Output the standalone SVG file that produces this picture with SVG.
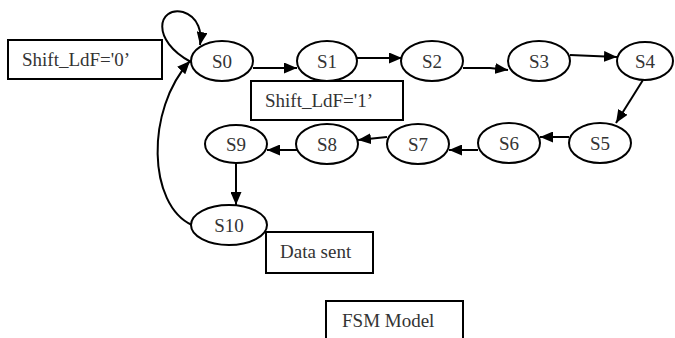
<svg xmlns="http://www.w3.org/2000/svg" width="675" height="338" viewBox="0 0 675 338">
  <defs>
    <marker id="arrow" markerUnits="userSpaceOnUse" markerWidth="13" markerHeight="11" refX="13" refY="5.5" orient="auto">
      <path d="M0,0 L13,5.5 L0,11 z" fill="#000"/>
    </marker>
    <style>
      .state ellipse { fill: #fff; stroke: #000; stroke-width: 2; }
      .label rect { fill: #fff; stroke: #000; stroke-width: 2; }
      text { font-family: "Liberation Serif", "Times New Roman", serif; font-size: 19px; fill: #333; }
      .state text { text-anchor: middle; }
      #connectors path { fill: none; stroke: #000; stroke-width: 2; marker-end: url(#arrow); }
    </style>
  </defs>
  <rect width="675" height="338" fill="#fff"/>

  <!-- transitions -->
  <g id="connectors">
    <path d="M191,62 C150,40 158,6 183,12 C199,17 202,33 200,45"/>
    <path d="M192,225 C148,205 145,110 190,61"/>
    <path d="M253,68 L297,68"/>
    <path d="M357,58 L402,58"/>
    <path d="M463,68 L490,68 L508,70"/>
    <path d="M570,55 L617,57"/>
    <path d="M643,80 L616,123"/>
    <path d="M569,137 L540,137"/>
    <path d="M478,150 L449,150"/>
    <path d="M387,137 L358,140"/>
    <path d="M297,150 L267,150"/>
    <path d="M236,163 L236,205"/>
  </g>

  <!-- condition labels -->
  <g id="lbl-shift0" class="label">
    <rect x="8" y="40" width="154" height="39"/>
    <text x="22" y="66">Shift_LdF='0’</text>
  </g>
  <g id="lbl-shift1" class="label">
    <rect x="251" y="81" width="152" height="39"/>
    <text x="265" y="107">Shift_LdF='1’</text>
  </g>
  <g id="lbl-data" class="label">
    <rect x="266" y="232" width="107" height="41"/>
    <text x="280" y="258">Data sent</text>
  </g>
  <g id="lbl-title" class="label">
    <rect x="326" y="301" width="137" height="45"/>
    <text x="342" y="327">FSM Model</text>
  </g>

  <!-- states -->
  <g id="S0" class="state"><ellipse cx="222" cy="61" rx="31" ry="20"/><text x="222" y="68">S0</text></g>
  <g id="S1" class="state"><ellipse cx="327" cy="61" rx="30" ry="20"/><text x="327" y="68">S1</text></g>
  <g id="S2" class="state"><ellipse cx="432" cy="61" rx="31" ry="20"/><text x="432" y="68">S2</text></g>
  <g id="S3" class="state"><ellipse cx="539" cy="61" rx="31" ry="20"/><text x="539" y="68">S3</text></g>
  <g id="S4" class="state"><ellipse cx="645" cy="61" rx="28" ry="19"/><text x="645" y="68">S4</text></g>
  <g id="S5" class="state"><ellipse cx="600" cy="143" rx="31" ry="20"/><text x="600" y="150">S5</text></g>
  <g id="S6" class="state"><ellipse cx="509" cy="143" rx="31" ry="20"/><text x="509" y="150">S6</text></g>
  <g id="S7" class="state"><ellipse cx="418" cy="144" rx="31" ry="20"/><text x="418" y="151">S7</text></g>
  <g id="S8" class="state"><ellipse cx="327" cy="144" rx="31" ry="20"/><text x="327" y="151">S8</text></g>
  <g id="S9" class="state"><ellipse cx="236" cy="144" rx="31" ry="19"/><text x="236" y="151">S9</text></g>
  <g id="S10" class="state"><ellipse cx="229" cy="225" rx="38" ry="20"/><text x="229" y="232">S10</text></g>
</svg>
